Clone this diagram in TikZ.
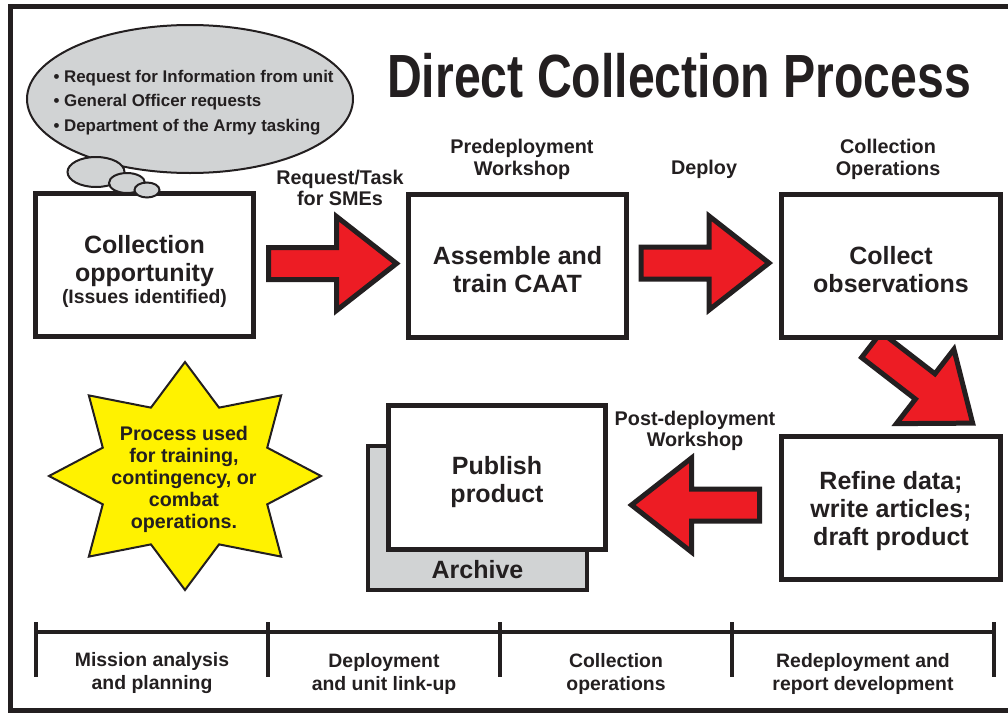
\documentclass[tikz,border=0pt]{standalone}
\usepackage{fontspec}
\setmainfont{Liberation Sans}
\newfontfamily\titlefont[FakeStretch=0.79]{Liberation Sans}
\usetikzlibrary{calc}

\definecolor{ink}{HTML}{231F20}
\definecolor{flagred}{HTML}{ED1C24}
\definecolor{cloudgray}{HTML}{D1D3D4}
\definecolor{burstyellow}{HTML}{FFF200}

% taller first line pushes the box text a little lower
\newcommand\toproom[1]{\rule{0pt}{#1}}

\tikzset{
  stagebox/.style={draw=ink, line width=5pt, fill=white, minimum width=218pt, minimum height=143pt,
    align=center, text=ink, font=\bfseries\fontsize{25}{28}\selectfont},
  steplabel/.style={align=center, text=ink, font=\bfseries\fontsize{19.8}{21.5}\selectfont},
  phase/.style={align=center, text=ink, font=\bfseries\fontsize{19.4}{23}\selectfont},
  redarrow/.style={draw=ink, line width=5pt, fill=flagred, line join=miter},
  bigarrow/.pic={\draw[redarrow] (-64,-16) -- (4,-16) -- (4,-47) -- (64,0) -- (4,47) -- (4,16) -- (-64,16) -- cycle;},
  cloud/.style={draw=ink, line width=2pt, fill=cloudgray},
  burst/.style={draw=ink, line width=2pt, fill=burstyellow, line join=miter},
  timeline/.style={draw=ink, line width=4.5pt},
}

\begin{document}
\begin{tikzpicture}[x=1pt, y=-1pt]
  \useasboundingbox (0,0) rectangle (1008,712);
  \clip (0,0) rectangle (1008,712);
  % outer frame and heading
  \draw[ink, line width=5pt] (10,6.5) rectangle (1020,710);
  \node[anchor=base, text=ink, font=\titlefont\bfseries\fontsize{61}{61}\selectfont] (title) at (679,97) {Direct Collection Process};

  % archive sheet lies behind the product box
  \node[draw=ink, line width=4pt, fill=cloudgray, minimum width=219pt, minimum height=144pt] (archive) at (477.5,518) {};
  \node[text=ink, font=\bfseries\fontsize{25}{28}\selectfont] (archivetext) at ($(archive.south)+(0,-22)$) {Archive};
  \node[stagebox, minimum width=217pt, minimum height=144pt] (publish) at (497,477.5) {\toproom{28pt}Publish\\product};

  % the turn down to the second row goes under the boxes
  \pic[rotate=-37.7] at (922,384) {bigarrow};

  % boxes of the process
  \node[stagebox] (opp) at (144.5,265) {\toproom{31pt}Collection\\opportunity\\[-6pt]{\fontsize{19.4}{22}\selectfont(Issues identified)}};
  \node[stagebox] (caat) at (517.5,266) {\toproom{26pt}Assemble and\\train CAAT};
  \node[stagebox, minimum width=219pt] (obs) at (891,266) {\toproom{25pt}Collect\\observations};
  \node[stagebox, minimum width=219pt] (refine) at (891,508) {\toproom{24.5pt}Refine data;\\write articles;\\draft product};

  % arrows between the boxes
  \pic at ($(opp.east)!0.5!(caat.west)+(1.5,-2)$) {bigarrow};
  \pic at ($(caat.east)!0.5!(obs.west)+(1,-3)$) {bigarrow};
  \pic[rotate=180] at ($(publish.east |- refine.west)!0.5!(refine.west)+(2,-3)$) {bigarrow};

  \node[steplabel] (req) at (340,188) {Request/Task\\for SMEs};
  \node[steplabel] (predep) at (522,159.5) {Predeployment\\Workshop};
  \node[steplabel] (deploy) at (704,169) {Deploy};
  \node[steplabel] (collops) at (888,159.5) {Collection\\Operations};
  \node[steplabel] (postdep) at (695,431) {Post-deployment\\Workshop};

  % thought bubble over the first box
  \draw[cloud] (190,99) ellipse (163 and 74);
  \draw[cloud] (96,172) ellipse (28.5 and 15);
  \draw[cloud] (127,183) ellipse (18 and 10);
  \draw[cloud] (147,190) ellipse (12.5 and 7.5);
  \node[anchor=west, align=left, text=ink, font=\bfseries\fontsize{16.9}{24.5}\selectfont] (wishes) at (50,102.5)
    {\textbullet\ Request for Information from unit\\\textbullet\ General Officer requests\\\textbullet\ Department of the Army tasking};

  % eight-point burst
  \draw[burst, shift={(185,476)}] (0:136 and 114)
    \foreach \a in {0,45,...,315} {-- (\a:136 and 114) -- (\a+22.5:89 and 74)} -- cycle;
  \node[align=center, text=ink, font=\bfseries\fontsize{19.7}{22}\selectfont] (bursttext) at (184,479.5)
    {Process used\\for training,\\contingency, or\\combat\\operations.};

  % phases along the bottom
  \coordinate (t0) at (36,632);
  \coordinate (t1) at (268,632);
  \coordinate (t2) at (500,632);
  \coordinate (t3) at (732,632);
  \coordinate (t4) at (994,632);
  \draw[timeline] (t0) -- (t4);
  \foreach \t in {t0,t1,t2,t3,t4}
    \draw[timeline] ($(\t)+(0,-10)$) -- ($(\t)+(0,45)$);
  \node[phase] (mission) at ($(t0)!0.5!(t1)+(0,41.5)$) {Mission analysis\\and planning};
  \node[phase] (linkup) at ($(t1)!0.5!(t2)+(0,41.5)$) {Deployment\\and unit link-up};
  \node[phase] (collect) at ($(t2)!0.5!(t3)+(0,41.5)$) {Collection\\operations};
  \node[phase] (redeploy) at ($(t3)!0.5!(t4)+(0,41.5)$) {Redeployment and\\report development};
\end{tikzpicture}
\end{document}
